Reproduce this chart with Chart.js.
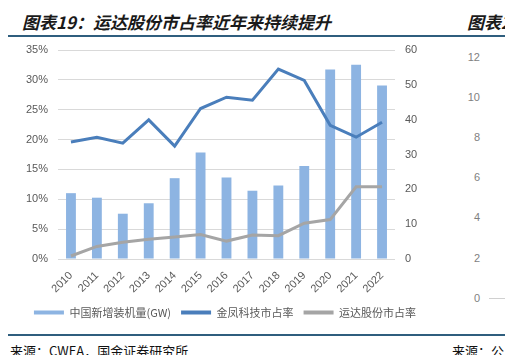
<!DOCTYPE html>
<html>
<head>
<meta charset="utf-8">
<script src="https://cdn.jsdelivr.net/npm/chart.js@4.4.1/dist/chart.umd.min.js"></script>
<style>
  html,body{margin:0;padding:0;background:#fff;}
  body{width:505px;height:355px;position:relative;overflow:hidden;font-family:"Noto Sans CJK SC","Liberation Sans",sans-serif;}
  #wrap{position:absolute;left:0;top:0;width:450px;height:328px;}
  .t{position:absolute;white-space:nowrap;}
  #title{left:22px;top:9px;font-size:17px;font-weight:bold;font-style:italic;color:#1a1a1a;}
  #title2{left:467px;top:9px;font-size:17px;font-weight:bold;font-style:italic;color:#1a1a1a;}
  .rule{position:absolute;left:8px;width:497px;height:2px;background:#2f5e7e;}
  .src{font-size:13px;color:#111;}
  .rax{font-family:"Liberation Sans",sans-serif;font-size:11px;color:#7f7f7f;width:20px;text-align:right;left:460px;}
</style>
</head>
<body>
<div id="title" class="t">图表19：运达股份市占率近年来持续提升</div>
<div id="title2" class="t">图表2</div>
<div class="rule" style="top:35px"></div>
<div id="wrap"><canvas id="c"></canvas></div>
<div class="rule" style="top:334px"></div>
<div class="t src" style="left:10px;top:341px;">来源：CWEA，国金证券研究所</div>
<div class="t src" style="left:452px;top:341px;">来源：公</div>
<div id="rpanel"></div>
<div style="position:absolute;left:489px;top:298px;width:16px;height:1px;background:#d0d0d0;"></div>
<script>
const categories = ["2010","2011","2012","2013","2014","2015","2016","2017","2018","2019","2020","2021","2022"];
const newInstalledGW = [18.9,17.6,13.0,16.0,23.2,30.6,23.4,19.6,21.1,26.7,54.4,55.8,49.8];
const goldwindShare = [19.6,20.4,19.4,23.3,18.9,25.2,27.1,26.6,31.8,29.9,22.4,20.4,22.9];
const yundaShare = [0.5,2.1,2.8,3.3,3.7,4.1,3.0,4.0,3.9,6.0,6.6,12.1,12.1];
const leftTicks = [0,5,10,15,20,25,30,35];
const rightTicks = [0,10,20,30,40,50,60];
const sidePanelTicks = ["12","10","8","6","4","2","0"];
const seriesNames = ["中国新增装机量(GW)","金凤科技市占率","运达股份市占率"];

// partial neighbouring panel axis labels
const rp = document.getElementById('rpanel');
sidePanelTicks.forEach((s,i)=>{
  const d=document.createElement('div');
  d.className='t rax';
  d.style.top=(51+i*40.1)+'px';
  d.textContent=s;
  rp.appendChild(d);
});

const tickFont = {family:"Liberation Sans", size:11};
const tickColor = "#595959";

new Chart(document.getElementById('c'), {
  data: {
    labels: categories,
    datasets: [
      {type:'bar', label:seriesNames[0], data:newInstalledGW, yAxisID:'y1',
       backgroundColor:'#8db4e2', borderWidth:0, categoryPercentage:1, barPercentage:0.38, order:2},
      {type:'line', label:seriesNames[1], data:goldwindShare, yAxisID:'y',
       borderColor:'#4a7ebb', backgroundColor:'#4a7ebb', borderWidth:3, pointRadius:0, tension:0, order:1},
      {type:'line', label:seriesNames[2], data:yundaShare, yAxisID:'y',
       borderColor:'#a5a5a5', backgroundColor:'#a5a5a5', borderWidth:3, pointRadius:0, tension:0, order:0}
    ]
  },
  options: {
    responsive:true, maintainAspectRatio:false, animation:false,
    devicePixelRatio:1,
    layout:{padding:{top:50,left:0,right:0,bottom:0}},
    plugins:{
      tooltip:{enabled:false},
      legend:{
        position:'bottom',
        labels:{
          boxWidth:30, boxHeight:4, padding:10, color:'#595959',
          font:{family:"Noto Sans CJK SC", size:11},
          generateLabels(chart){
            const items = Chart.defaults.plugins.legend.labels.generateLabels(chart);
            return items.map(it=>Object.assign(it,{lineWidth:0}))
                        .sort((a,b)=>a.datasetIndex-b.datasetIndex);
          }
        }
      }
    },
    scales:{
      x:{
        grid:{display:false}, border:{display:false},
        ticks:{color:tickColor, font:tickFont, maxRotation:45, minRotation:45, padding:2},
        afterFit(s){ s.height = 38; }
      },
      y:{
        position:'left', min:0, max:35,
        afterBuildTicks(s){ s.ticks = leftTicks.map(v=>({value:v})); },
        grid:{color:'#d9d9d9', lineWidth:1, drawTicks:false}, border:{display:false},
        ticks:{color:tickColor, font:tickFont, padding:10, callback:v=>v+'%'},
        afterFit(s){ s.width = 58; }
      },
      y1:{
        position:'right', min:0, max:60,
        afterBuildTicks(s){ s.ticks = rightTicks.map(v=>({value:v})); },
        grid:{drawOnChartArea:false, drawTicks:false}, border:{display:false},
        ticks:{color:tickColor, font:tickFont, padding:10},
        afterFit(s){ s.width = 55; }
      }
    }
  }
});
</script>
</body>
</html>
